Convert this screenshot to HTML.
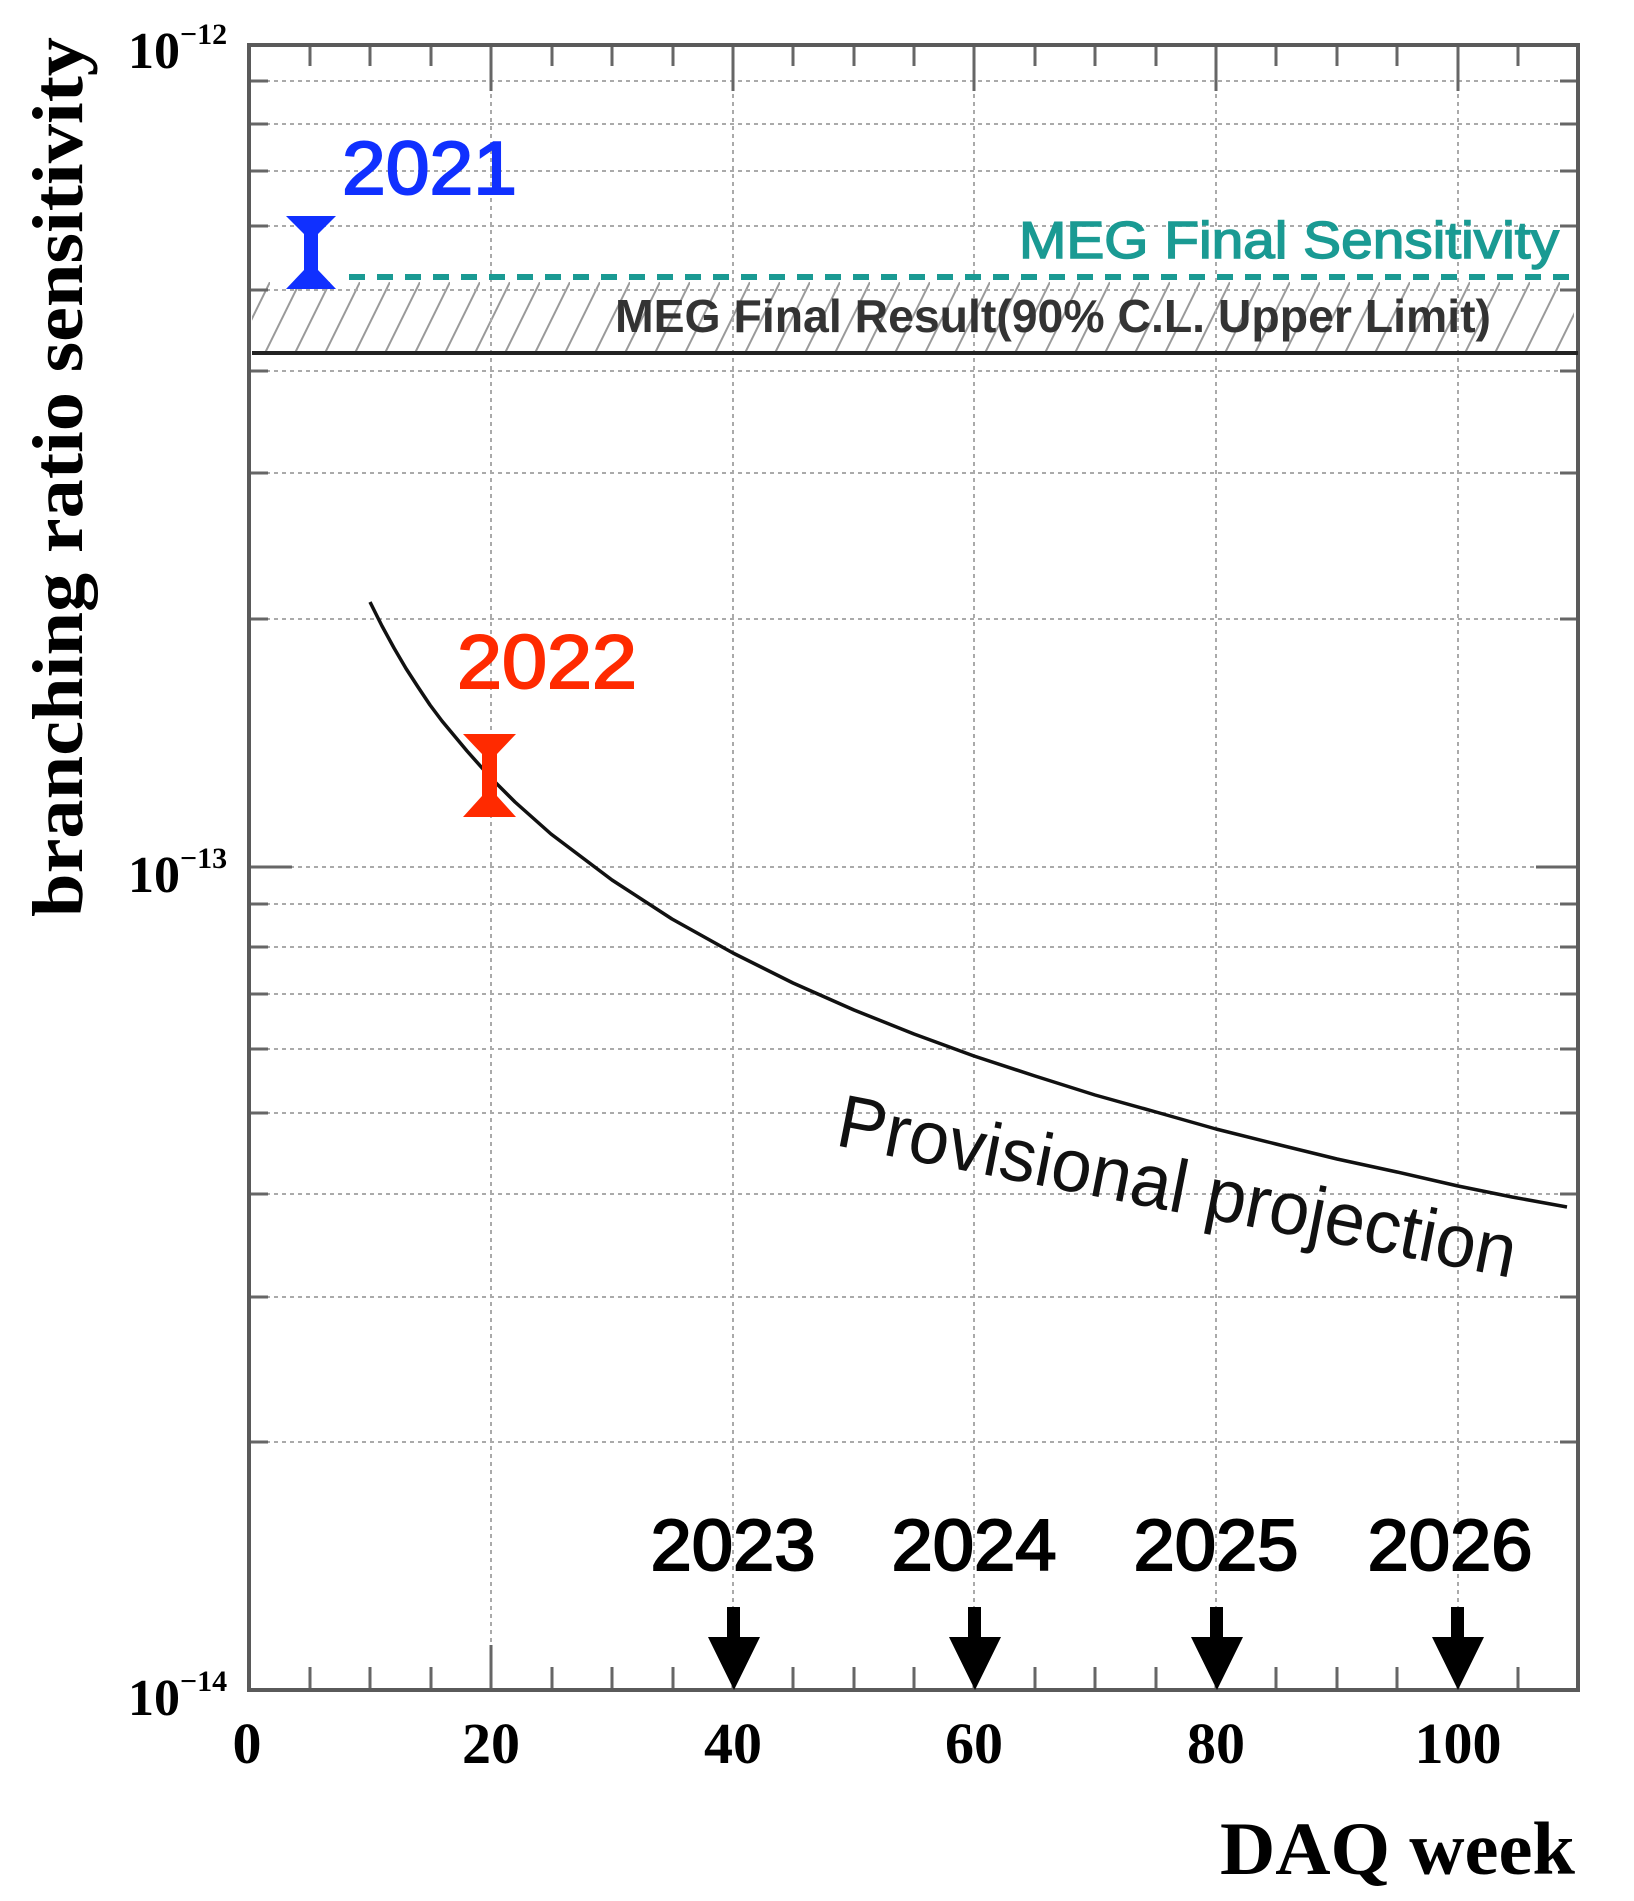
<!DOCTYPE html>
<html><head><meta charset="utf-8"><style>html,body{margin:0;padding:0;background:#fff}svg{display:block}</style></head>
<body>
<svg width="1634" height="1901" viewBox="0 0 1634 1901" xmlns="http://www.w3.org/2000/svg">
<defs>
<pattern id="hatch" patternUnits="userSpaceOnUse" width="30" height="71" x="0" y="282">
<line x1="-5" y1="71" x2="30" y2="0" stroke="#9a9a9a" stroke-width="2"/>
<line x1="25" y1="71" x2="60" y2="0" stroke="#9a9a9a" stroke-width="2"/>
</pattern>
</defs>
<rect x="252" y="282" width="1322" height="71" fill="url(#hatch)"/>
<g stroke="#aaa" stroke-width="2" stroke-dasharray="4,4">
<line x1="491" y1="46" x2="491" y2="1688"/>
<line x1="733" y1="46" x2="733" y2="1688"/>
<line x1="974" y1="46" x2="974" y2="1688"/>
<line x1="1216" y1="46" x2="1216" y2="1688"/>
<line x1="1458" y1="46" x2="1458" y2="1688"/>
<line x1="250" y1="81" x2="1577" y2="81"/>
<line x1="250" y1="124" x2="1577" y2="124"/>
<line x1="250" y1="171" x2="1577" y2="171"/>
<line x1="250" y1="226" x2="1577" y2="226"/>
<line x1="250" y1="290" x2="1577" y2="290"/>
<line x1="250" y1="371" x2="1577" y2="371"/>
<line x1="250" y1="473" x2="1577" y2="473"/>
<line x1="250" y1="619" x2="1577" y2="619"/>
<line x1="250" y1="867" x2="1577" y2="867"/>
<line x1="250" y1="904" x2="1577" y2="904"/>
<line x1="250" y1="947" x2="1577" y2="947"/>
<line x1="250" y1="994" x2="1577" y2="994"/>
<line x1="250" y1="1049" x2="1577" y2="1049"/>
<line x1="250" y1="1113" x2="1577" y2="1113"/>
<line x1="250" y1="1194" x2="1577" y2="1194"/>
<line x1="250" y1="1297" x2="1577" y2="1297"/>
<line x1="250" y1="1442" x2="1577" y2="1442"/>
</g>
<g stroke="#666" stroke-width="3">
<path d="M310 46v20M370 46v20M431 46v20M491 46v45M552 46v20M612 46v20M673 46v20M733 46v45M793 46v20M854 46v20M914 46v20M974 46v45M1035 46v20M1095 46v20M1156 46v20M1216 46v45M1276 46v20M1337 46v20M1397 46v20M1458 46v45M1518 46v20"/>
<path d="M310 1690v-23M370 1690v-23M431 1690v-23M491 1690v-45M552 1690v-23M612 1690v-23M673 1690v-23M733 1690v-45M793 1690v-23M854 1690v-23M914 1690v-23M974 1690v-45M1035 1690v-23M1095 1690v-23M1156 1690v-23M1216 1690v-45M1276 1690v-23M1337 1690v-23M1397 1690v-23M1458 1690v-45M1518 1690v-23"/>
<path d="M250 81h18M250 124h18M250 171h18M250 226h18M250 290h18M250 371h18M250 473h18M250 619h18M250 867h42M250 904h18M250 947h18M250 994h18M250 1049h18M250 1113h18M250 1194h18M250 1297h18M250 1442h18"/>
<path d="M1578 81h-18M1578 124h-18M1578 171h-18M1578 226h-18M1578 290h-18M1578 371h-18M1578 473h-18M1578 619h-18M1578 867h-42M1578 904h-18M1578 947h-18M1578 994h-18M1578 1049h-18M1578 1113h-18M1578 1194h-18M1578 1297h-18M1578 1442h-18"/>
</g>
<rect x="249" y="45" width="1329" height="1645" fill="none" stroke="#5a5a5a" stroke-width="4"/>
<line x1="252" y1="353" x2="1578" y2="353" stroke="#222" stroke-width="4"/>
<line x1="349" y1="277" x2="1575" y2="277" stroke="#1a9a93" stroke-width="6" stroke-dasharray="16,12"/>
<polyline fill="none" stroke="#111" stroke-width="3.5" stroke-linejoin="round" points="370,602 382,626 394,648 406,668.5 418,687 430,705 442,721 467,751 491,778 515,802 551,834 612,880 672,919 733,953 793,983 854,1010 914,1034 974,1056 1035,1076 1095,1095 1156,1112 1216,1129 1276,1144 1337,1159 1397,1172 1458,1186 1512,1197 1567,1207"/>
<path d="M286 216h50l-18 18v36l18 19h-50l18-19v-36z" fill="#1030ff"/>
<path d="M463 734h53l-19 20v42l19 21h-53l19-21v-42z" fill="#ff2a00"/>
<g fill="#000">
<path d="M727 1607h13v30h20l-26 53l-26-53h19z"/>
<path d="M968 1607h13v30h20l-26 53l-26-53h19z"/>
<path d="M1210 1607h13v30h20l-26 53l-26-53h19z"/>
<path d="M1451 1607h13v30h20l-26 53l-26-53h19z"/>
</g>
<g font-family="Liberation Sans, Arial, sans-serif">
<text x="342" y="194" font-size="75" fill="#1030ff" stroke="#1030ff" stroke-width="2" textLength="175" lengthAdjust="spacingAndGlyphs">2021</text>
<text x="457" y="688" font-size="76" fill="#ff2a00" stroke="#ff2a00" stroke-width="2" textLength="180" lengthAdjust="spacingAndGlyphs">2022</text>
<text x="1019" y="258" font-size="52" fill="#1a9a93" stroke="#1a9a93" stroke-width="1.5" textLength="540" lengthAdjust="spacingAndGlyphs">MEG Final Sensitivity</text>
<text x="615" y="332" font-size="46" fill="#333" font-weight="bold" textLength="876" lengthAdjust="spacingAndGlyphs">MEG Final Result(90% C.L. Upper Limit)</text>
<text x="0" y="0" font-size="75" fill="#111" textLength="690" lengthAdjust="spacingAndGlyphs" transform="translate(834,1145) rotate(11.1)">Provisional projection</text>
<g font-size="72" fill="#000" stroke="#000" stroke-width="2" text-anchor="middle">
<text x="733" y="1570" textLength="165" lengthAdjust="spacingAndGlyphs">2023</text>
<text x="974" y="1570" textLength="165" lengthAdjust="spacingAndGlyphs">2024</text>
<text x="1216" y="1570" textLength="165" lengthAdjust="spacingAndGlyphs">2025</text>
<text x="1450" y="1570" textLength="165" lengthAdjust="spacingAndGlyphs">2026</text>
</g>
</g>
<g font-family="Liberation Serif, Times New Roman, serif" font-weight="bold" fill="#000">
<g font-size="58" text-anchor="middle">
<text x="247" y="1763">0</text>
<text x="491" y="1763">20</text>
<text x="733" y="1763">40</text>
<text x="974" y="1763">60</text>
<text x="1216" y="1763">80</text>
<text x="1458" y="1763">100</text>
</g>
<text x="128" y="68" font-size="52">10<tspan font-size="30" dy="-24">−12</tspan></text>
<text x="128" y="892" font-size="52">10<tspan font-size="30" dy="-24">−13</tspan></text>
<text x="128" y="1715" font-size="52">10<tspan font-size="30" dy="-24">−14</tspan></text>
<text x="0" y="0" font-size="72" textLength="880" lengthAdjust="spacingAndGlyphs" text-anchor="middle" transform="translate(82,477) rotate(-90)">branching ratio sensitivity</text>
<text x="1220" y="1874" font-size="75" textLength="355" lengthAdjust="spacingAndGlyphs">DAQ week</text>
</g>
</svg>
</body></html>
